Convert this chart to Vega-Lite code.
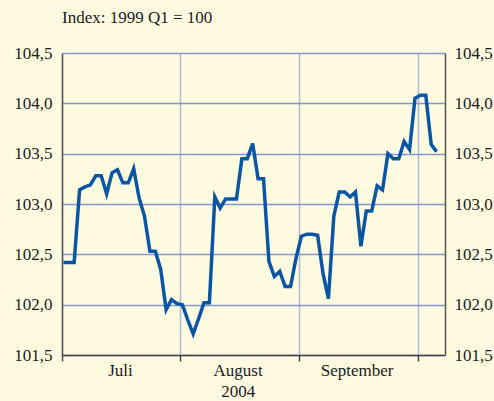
{
  "$schema": "https://vega.github.io/schema/vega-lite/v6.json",
  "width": 383,
  "height": 302,
  "autosize": "none",
  "padding": {"left": 62, "top": 53, "right": 49, "bottom": 46},
  "background": "#FFFBE1",
  "config": {
    "view": {"stroke": null, "fill": "#FFFBE1"},
    "font": "Liberation Serif",
    "axis": {"labelFont": "Liberation Serif", "labelFontSize": 17, "labelColor": "#1A1A1A"}
  },
  "title": {
    "text": "Index: 1999 Q1 = 100",
    "anchor": "start",
    "frame": "group",
    "font": "Liberation Serif",
    "fontSize": 17,
    "fontWeight": "normal",
    "color": "#1A1A1A",
    "baseline": "alphabetic",
    "offset": 4
  },
  "data": {
    "values": [
      {"t": 0, "v": 102.42}, {"t": 1, "v": 102.42}, {"t": 2, "v": 102.42}, {"t": 3, "v": 103.14},
      {"t": 4, "v": 103.17}, {"t": 5, "v": 103.19}, {"t": 6, "v": 103.28}, {"t": 7, "v": 103.28},
      {"t": 8, "v": 103.1}, {"t": 9, "v": 103.31}, {"t": 10, "v": 103.34}, {"t": 11, "v": 103.21},
      {"t": 12, "v": 103.21}, {"t": 13, "v": 103.35}, {"t": 14, "v": 103.06}, {"t": 15, "v": 102.88},
      {"t": 16, "v": 102.53}, {"t": 17, "v": 102.53}, {"t": 18, "v": 102.35}, {"t": 19, "v": 101.95},
      {"t": 20, "v": 102.05}, {"t": 21, "v": 102.01}, {"t": 22, "v": 102.0}, {"t": 23, "v": 101.85},
      {"t": 24, "v": 101.71}, {"t": 25, "v": 101.86}, {"t": 26, "v": 102.02}, {"t": 27, "v": 102.02},
      {"t": 28, "v": 103.07}, {"t": 29, "v": 102.96}, {"t": 30, "v": 103.05}, {"t": 31, "v": 103.05},
      {"t": 32, "v": 103.05}, {"t": 33, "v": 103.45}, {"t": 34, "v": 103.45}, {"t": 35, "v": 103.6},
      {"t": 36, "v": 103.25}, {"t": 37, "v": 103.25}, {"t": 38, "v": 102.43}, {"t": 39, "v": 102.28},
      {"t": 40, "v": 102.33}, {"t": 41, "v": 102.18}, {"t": 42, "v": 102.18}, {"t": 43, "v": 102.46},
      {"t": 44, "v": 102.68}, {"t": 45, "v": 102.7}, {"t": 46, "v": 102.7}, {"t": 47, "v": 102.69},
      {"t": 48, "v": 102.31}, {"t": 49, "v": 102.06}, {"t": 50, "v": 102.88}, {"t": 51, "v": 103.12},
      {"t": 52, "v": 103.12}, {"t": 53, "v": 103.07}, {"t": 54, "v": 103.12}, {"t": 55, "v": 102.58},
      {"t": 56, "v": 102.93}, {"t": 57, "v": 102.93}, {"t": 58, "v": 103.18}, {"t": 59, "v": 103.14},
      {"t": 60, "v": 103.5}, {"t": 61, "v": 103.45}, {"t": 62, "v": 103.45}, {"t": 63, "v": 103.62},
      {"t": 64, "v": 103.54}, {"t": 65, "v": 104.05}, {"t": 66, "v": 104.08}, {"t": 67, "v": 104.08},
      {"t": 68, "v": 103.59}, {"t": 69, "v": 103.52}
    ]
  },
  "encoding": {
    "x": {
      "field": "t",
      "type": "quantitative",
      "scale": {"domain": [-0.25, 70.55], "nice": false, "zero": false},
      "axis": {
        "title": null,
        "orient": "bottom",
        "values": [-0.25, 21.5, 43.5, 65.5],
        "labelExpr": "datum.value < 0 ? 'Juli' : datum.value < 22 ? ['August', '2004'] : datum.value < 44 ? 'September' : ''",
        "labelOffset": 58,
        "labelAlign": "center",
        "labelFlush": false,
        "labelOverlap": false,
        "labelBound": false,
        "labelPadding": 1,
        "labelLineHeight": 21,
        "grid": true,
        "gridColor": "#AEB9D6",
        "gridWidth": 1.5,
        "domainColor": "#444444",
        "domainWidth": 1.5,
        "tickColor": "#444444",
        "tickWidth": 1.5,
        "tickSize": 6
      }
    },
    "y": {
      "field": "v",
      "type": "quantitative",
      "scale": {"domain": [101.5, 104.5], "nice": false, "zero": false}
    }
  },
  "layer": [
    {
      "mark": {"type": "line", "color": "#0B56A4", "strokeWidth": 3.5, "strokeJoin": "miter"},
      "encoding": {
        "y": {
          "field": "v",
          "type": "quantitative",
          "axis": {
            "title": null,
            "orient": "left",
            "values": [101.5, 102, 102.5, 103, 103.5, 104, 104.5],
            "labelExpr": "replace(format(datum.value, '.1f'), '.', ',')",
            "grid": true,
            "gridColor": "#8297CC",
            "gridWidth": 1.5,
            "ticks": false,
            "labelPadding": 10,
            "domainColor": "#555555",
            "domainWidth": 1.5
          }
        }
      }
    },
    {
      "mark": {"type": "line", "strokeOpacity": 0},
      "encoding": {
        "y": {
          "field": "v",
          "type": "quantitative",
          "axis": {
            "title": null,
            "orient": "right",
            "values": [101.5, 102, 102.5, 103, 103.5, 104, 104.5],
            "labelExpr": "replace(format(datum.value, '.1f'), '.', ',')",
            "grid": false,
            "ticks": false,
            "labelPadding": 9,
            "domainColor": "#555555",
            "domainWidth": 1.5
          }
        }
      }
    }
  ],
  "resolve": {"axis": {"y": "independent"}}
}
